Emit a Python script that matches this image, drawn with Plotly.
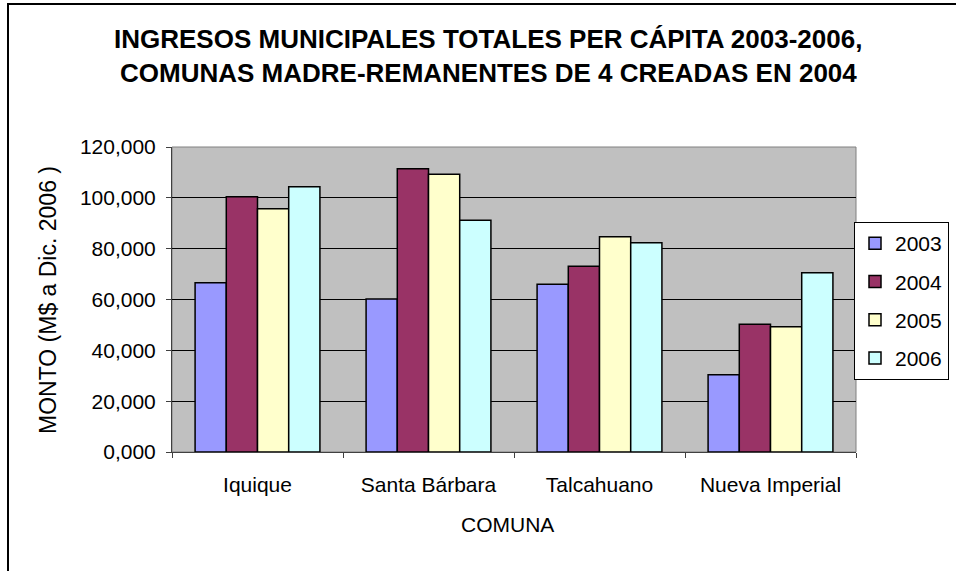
import plotly.graph_objects as go

comunas = ["Iquique", "Santa Bárbara", "Talcahuano", "Nueva Imperial"]
years = ["2003", "2004", "2005", "2006"]
# Ingresos per cápita (M$ a Dic. 2006)
v2003 = [66.61, 60.20, 65.98, 30.41]
v2004 = [100.45, 111.46, 73.06, 50.24]
v2005 = [95.73, 109.26, 84.71, 49.30]
v2006 = [104.38, 91.16, 82.35, 70.54]
series = [v2003, v2004, v2005, v2006]
colors = ["#9999FF", "#993366", "#FFFFCC", "#CCFFFF"]
y_ticks = [0, 20, 40, 60, 80, 100, 120]

FONT = "Arial, Liberation Sans, sans-serif"
FW, FH = 956, 571

fig = go.Figure()
for yr, vals, col in zip(years, series, colors):
    fig.add_trace(go.Bar(
        x=comunas, y=vals, name=yr, legendgroup=yr,
        marker=dict(color=col, line=dict(color="black", width=1.5)),
    ))

# plot area in screen pixels
L, R, T, B = 172, 856, 147, 452
W, H = R - L, B - T

def px(x):
    return (x - L) / W

def py(y):
    return (B - y) / H

fig.update_layout(
    width=FW, height=FH,
    margin=dict(l=L, r=FW - R, t=T, b=FH - B, autoexpand=False),
    paper_bgcolor="white",
    plot_bgcolor="#C0C0C0",
    separators=",.",
    barmode="group", bargap=0.27, bargroupgap=0,
    font=dict(family=FONT, size=21, color="black"),
    showlegend=True,
    legend=dict(
        x=px(949), y=py(222), xanchor="right", yanchor="top",
        bgcolor="white", bordercolor="black", borderwidth=1,
        font=dict(size=21), tracegroupgap=8,
        itemwidth=30,
    ),
    xaxis=dict(
        showgrid=False, ticks="outside", ticklen=5, tickson="boundaries",
        tickcolor="#404040", showline=True, linecolor="#404040", linewidth=1,
        ticklabelstandoff=14,
    ),
    yaxis=dict(
        range=[0, 120], tickvals=y_ticks, tickformat=".3f",
        showgrid=True, gridcolor="black", gridwidth=1,
        ticks="outside", ticklen=5, tickcolor="#404040",
        showline=True, linecolor="#404040", linewidth=1,
        ticklabelstandoff=6, zeroline=False,
    ),
    shapes=[
        dict(type="rect", xref="paper", yref="paper", x0=0, x1=1, y0=0, y1=1,
             line=dict(color="#808080", width=1), layer="below"),
        dict(type="rect", xref="paper", yref="paper",
             x0=px(8), x1=px(990), y0=py(4), y1=py(600),
             line=dict(color="black", width=2)),
    ],
    annotations=[
        dict(text="<b>INGRESOS MUNICIPALES TOTALES PER CÁPITA 2003-2006,</b>",
             xref="paper", yref="paper", x=px(488), y=py(39),
             xanchor="center", yanchor="middle", showarrow=False,
             font=dict(size=26)),
        dict(text="<b>COMUNAS MADRE-REMANENTES DE 4 CREADAS EN 2004</b>",
             xref="paper", yref="paper", x=px(488), y=py(73),
             xanchor="center", yanchor="middle", showarrow=False,
             font=dict(size=26)),
        dict(text="MONTO (M$ a Dic. 2006 )", textangle=-90,
             xref="paper", yref="paper", x=px(48), y=py(300),
             xanchor="center", yanchor="middle", showarrow=False,
             font=dict(size=23)),
        dict(text="COMUNA",
             xref="paper", yref="paper", x=px(507), y=py(524),
             xanchor="center", yanchor="middle", showarrow=False,
             font=dict(size=21)),
    ],
)

fig.write_html("out.html", config={"displayModeBar": False},
               post_script="document.body.style.margin='0px';")
